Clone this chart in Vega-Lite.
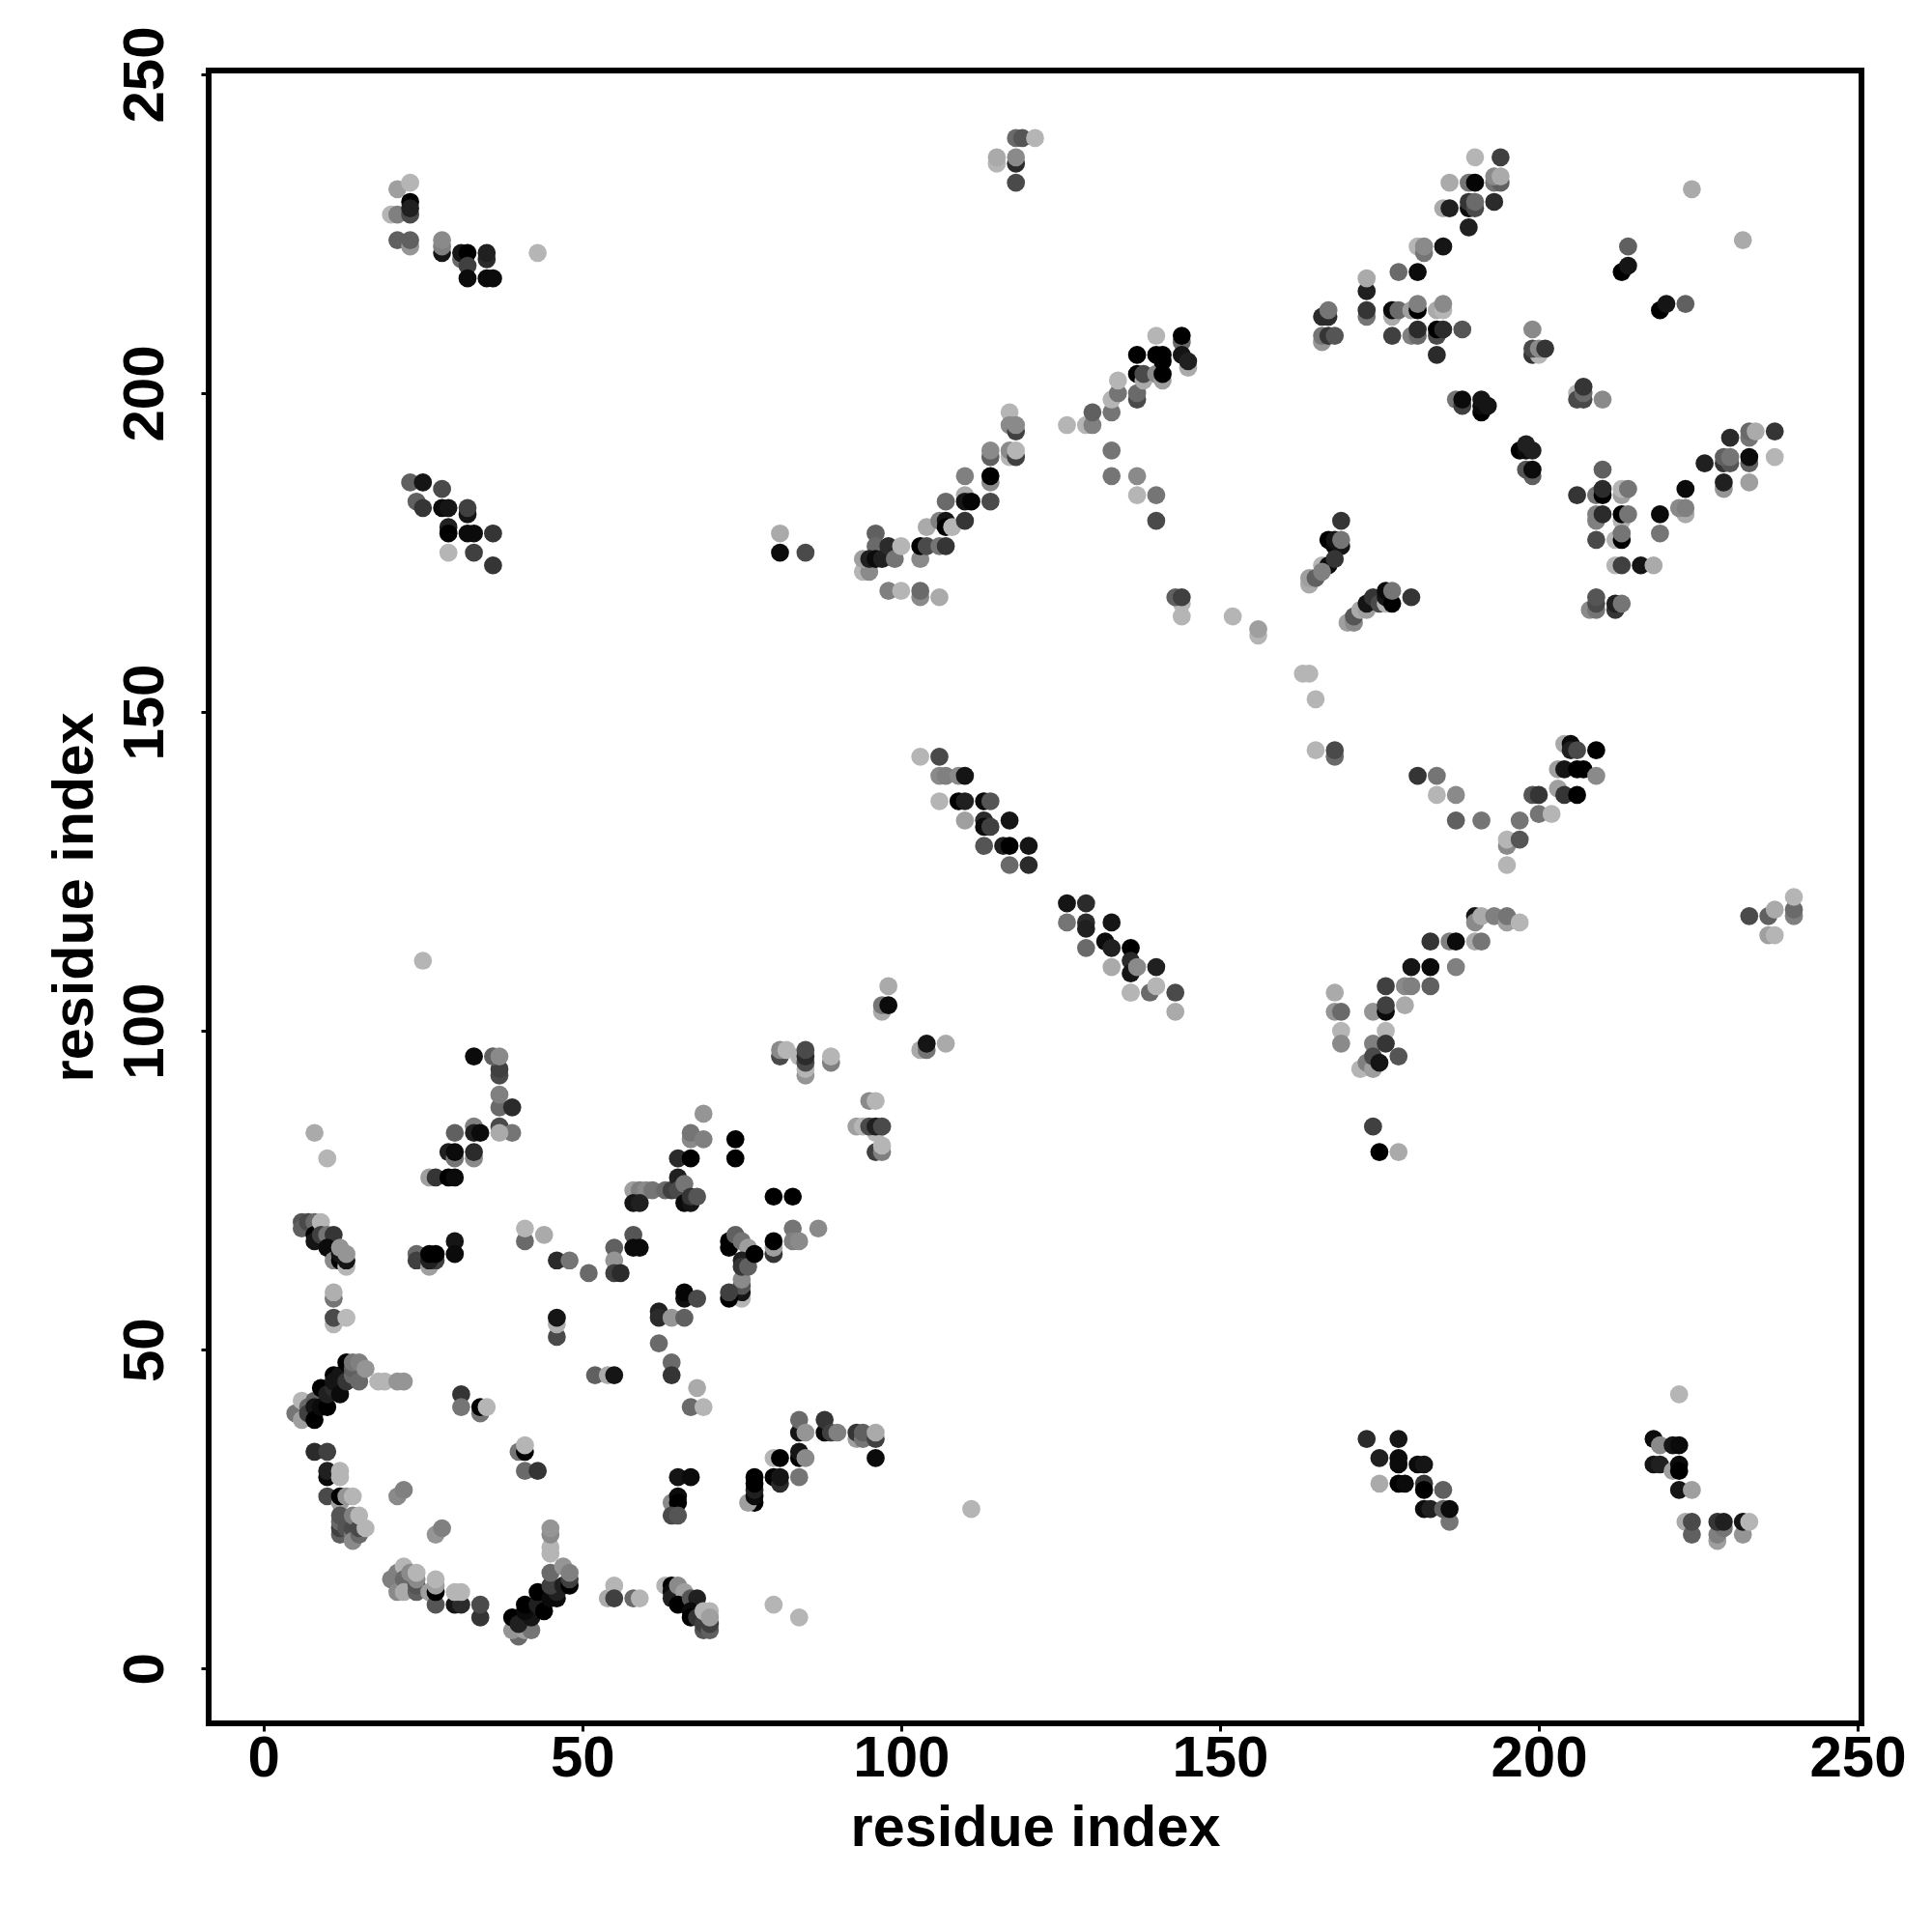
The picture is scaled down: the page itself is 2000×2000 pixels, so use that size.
{"$schema":"https://vega.github.io/schema/vega-lite/v6.json","width":1711,"height":1711,"autosize":{"type":"none"},"padding":{"left":216,"top":73,"right":73,"bottom":216},"background":"white","view":{"stroke":"black","strokeWidth":6,"fill":"white"},"data":{"values":[
{"x":6,"y":70,"g":80},{"x":6,"y":69,"g":90},{"x":7,"y":70,"g":70},{"x":8,"y":70,"g":100},{"x":8,"y":68,"g":0},{"x":8,"y":67,"g":20},{"x":9,"y":70,"g":170},{"x":9,"y":68,"g":60},{"x":10,"y":68,"g":110},{"x":11,"y":68,"g":50},{"x":10,"y":66,"g":10},{"x":11,"y":65,"g":10},{"x":11,"y":64,"g":130},{"x":12,"y":64,"g":0},{"x":13,"y":63,"g":170},{"x":13,"y":64,"g":20},{"x":12,"y":65,"g":20},{"x":12,"y":66,"g":140},{"x":13,"y":65,"g":140},
{"x":24,"y":65,"g":100},{"x":24,"y":64,"g":60},{"x":26,"y":63,"g":150},{"x":27,"y":64,"g":60},{"x":26,"y":64,"g":30},{"x":26,"y":65,"g":0},{"x":27,"y":65,"g":0},{"x":30,"y":67,"g":20},{"x":30,"y":65,"g":10},
{"x":41,"y":67,"g":100},{"x":41,"y":69,"g":170},{"x":44,"y":68,"g":160},{"x":46,"y":64,"g":40},{"x":48,"y":64,"g":110},{"x":51,"y":62,"g":100},{"x":55,"y":66,"g":90},{"x":55,"y":64,"g":140},{"x":55,"y":62,"g":60},{"x":56,"y":62,"g":40},{"x":58,"y":68,"g":80},{"x":58,"y":66,"g":10},{"x":59,"y":66,"g":10},
{"x":11,"y":58,"g":110},{"x":11,"y":59,"g":165},{"x":11,"y":54,"g":170},{"x":11,"y":55,"g":70},{"x":13,"y":55,"g":175},{"x":46,"y":52,"g":70},{"x":46,"y":54,"g":165},{"x":46,"y":55,"g":20},
{"x":62,"y":56,"g":30},{"x":62,"y":55,"g":40},{"x":64,"y":55,"g":140},{"x":66,"y":55,"g":90},{"x":66,"y":58,"g":15},{"x":66,"y":59,"g":5},{"x":68,"y":58,"g":70},{"x":62,"y":51,"g":100},{"x":64,"y":48,"g":100},{"x":64,"y":46,"g":50},{"x":68,"y":44,"g":160},{"x":67,"y":41,"g":100},{"x":69,"y":41,"g":170},{"x":52,"y":46,"g":90},{"x":54,"y":46,"g":160},{"x":55,"y":46,"g":20},
{"x":5,"y":40,"g":110},{"x":6,"y":39,"g":150},{"x":6,"y":42,"g":170},{"x":7,"y":41,"g":100},{"x":7,"y":40,"g":60},{"x":8,"y":42,"g":90},{"x":8,"y":41,"g":20},{"x":8,"y":39,"g":0},{"x":9,"y":41,"g":10},{"x":9,"y":44,"g":0},{"x":10,"y":41,"g":0},{"x":10,"y":43,"g":30},{"x":11,"y":46,"g":0},{"x":11,"y":44,"g":40},{"x":11,"y":45,"g":20},{"x":12,"y":43,"g":10},{"x":12,"y":46,"g":20},{"x":13,"y":45,"g":50},{"x":13,"y":48,"g":0},{"x":14,"y":46,"g":100},{"x":14,"y":47,"g":90},{"x":14,"y":48,"g":110},{"x":15,"y":45,"g":100},{"x":15,"y":48,"g":120},{"x":16,"y":47,"g":140},{"x":18,"y":45,"g":170},{"x":19,"y":45,"g":170},{"x":21,"y":45,"g":140},{"x":22,"y":45,"g":140},
{"x":31,"y":43,"g":50},{"x":31,"y":41,"g":110},{"x":34,"y":40,"g":110},{"x":34,"y":41,"g":0},{"x":35,"y":41,"g":170},
{"x":8,"y":34,"g":40},{"x":10,"y":34,"g":60},{"x":10,"y":30,"g":10},{"x":10,"y":31,"g":30},{"x":12,"y":30,"g":170},{"x":12,"y":31,"g":170},{"x":10,"y":27,"g":70},{"x":12,"y":26,"g":150},{"x":12,"y":27,"g":0},{"x":13,"y":27,"g":140},{"x":14,"y":27,"g":170},
{"x":12,"y":21,"g":90},{"x":12,"y":22,"g":60},{"x":12,"y":23,"g":100},{"x":12,"y":24,"g":80},{"x":13,"y":22,"g":80},{"x":14,"y":21,"g":110},{"x":14,"y":22,"g":70},{"x":14,"y":20,"g":130},{"x":14,"y":24,"g":120},{"x":15,"y":21,"g":100},{"x":15,"y":22,"g":70},{"x":15,"y":24,"g":170},{"x":16,"y":22,"g":170},
{"x":21,"y":27,"g":130},{"x":22,"y":28,"g":120},{"x":27,"y":21,"g":140},{"x":28,"y":22,"g":120},{"x":40,"y":34,"g":110},{"x":41,"y":34,"g":0},{"x":41,"y":35,"g":170},{"x":41,"y":31,"g":100},{"x":43,"y":31,"g":50},
{"x":20,"y":14,"g":120},{"x":21,"y":15,"g":120},{"x":21,"y":12,"g":130},{"x":22,"y":16,"g":170},{"x":22,"y":14,"g":100},{"x":22,"y":12,"g":160},{"x":23,"y":15,"g":130},{"x":24,"y":12,"g":90},{"x":24,"y":13,"g":80},{"x":24,"y":14,"g":130},{"x":24,"y":15,"g":170},{"x":26,"y":12,"g":150},{"x":27,"y":10,"g":80},{"x":27,"y":12,"g":0},{"x":27,"y":13,"g":150},{"x":27,"y":14,"g":170},{"x":30,"y":10,"g":20},{"x":31,"y":10,"g":40},{"x":30,"y":12,"g":170},{"x":31,"y":12,"g":170},{"x":34,"y":8,"g":50},{"x":34,"y":10,"g":70},
{"x":40,"y":5,"g":100},{"x":39,"y":6,"g":140},{"x":41,"y":6,"g":150},{"x":42,"y":6,"g":110},{"x":39,"y":8,"g":0},{"x":40,"y":7,"g":30},{"x":42,"y":8,"g":20},{"x":41,"y":9,"g":10},{"x":41,"y":10,"g":0},{"x":43,"y":10,"g":30},{"x":44,"y":9,"g":0},{"x":43,"y":12,"g":0},{"x":45,"y":11,"g":10},{"x":46,"y":11,"g":10},{"x":46,"y":12,"g":30},{"x":45,"y":13,"g":60},{"x":47,"y":13,"g":30},{"x":48,"y":13,"g":0},{"x":48,"y":14,"g":60},{"x":45,"y":15,"g":100},{"x":47,"y":16,"g":140},{"x":48,"y":15,"g":120},
{"x":45,"y":18,"g":170},{"x":45,"y":19,"g":170},{"x":45,"y":21,"g":130},{"x":45,"y":22,"g":140},{"x":54,"y":11,"g":160},{"x":55,"y":13,"g":170},{"x":55,"y":11,"g":60},{"x":58,"y":11,"g":100},{"x":59,"y":11,"g":170},
{"x":63,"y":13,"g":170},{"x":64,"y":13,"g":0},{"x":64,"y":12,"g":10},{"x":64,"y":11,"g":30},{"x":65,"y":13,"g":130},{"x":66,"y":12,"g":150},{"x":65,"y":10,"g":0},{"x":67,"y":11,"g":80},{"x":68,"y":11,"g":30},{"x":67,"y":9,"g":10},{"x":67,"y":8,"g":0},{"x":68,"y":8,"g":50},{"x":69,"y":6,"g":80},{"x":69,"y":7,"g":60},{"x":70,"y":6,"g":90},{"x":70,"y":7,"g":60},{"x":69,"y":9,"g":170},{"x":70,"y":9,"g":170},{"x":70,"y":8,"g":150},
{"x":97,"y":103,"g":160},{"x":97,"y":104,"g":110},{"x":98,"y":104,"g":10},{"x":98,"y":107,"g":160},{"x":103,"y":97,"g":160},{"x":104,"y":97,"g":110},{"x":104,"y":98,"g":20},{"x":107,"y":98,"g":160},
{"x":81,"y":96,"g":70},{"x":81,"y":97,"g":130},{"x":82,"y":97,"g":170},{"x":84,"y":96,"g":170},{"x":85,"y":93,"g":140},{"x":85,"y":94,"g":170},{"x":85,"y":95,"g":70},{"x":85,"y":96,"g":40},{"x":85,"y":97,"g":70},{"x":89,"y":95,"g":120},{"x":89,"y":96,"g":170},
{"x":95,"y":89,"g":130},{"x":96,"y":89,"g":170},{"x":93,"y":85,"g":150},{"x":94,"y":85,"g":170},{"x":96,"y":84,"g":170},{"x":95,"y":85,"g":70},{"x":96,"y":85,"g":30},{"x":97,"y":85,"g":70},{"x":96,"y":81,"g":60},{"x":97,"y":81,"g":120},{"x":97,"y":82,"g":170},
{"x":74,"y":83,"g":0},{"x":74,"y":80,"g":0},{"x":80,"y":74,"g":0},{"x":83,"y":74,"g":0},{"x":83,"y":69,"g":110},{"x":87,"y":69,"g":130},{"x":83,"y":67,"g":120},{"x":84,"y":67,"g":130},{"x":80,"y":65,"g":50},{"x":80,"y":66,"g":150},{"x":80,"y":67,"g":0},
{"x":73,"y":67,"g":0},{"x":73,"y":66,"g":0},{"x":74,"y":68,"g":90},{"x":75,"y":67,"g":110},{"x":76,"y":66,"g":150},{"x":75,"y":64,"g":30},{"x":75,"y":58,"g":170},{"x":75,"y":59,"g":20},{"x":75,"y":60,"g":80},{"x":75,"y":61,"g":130},{"x":75,"y":63,"g":50},{"x":76,"y":63,"g":90},{"x":77,"y":65,"g":0},{"x":73,"y":58,"g":0},{"x":73,"y":59,"g":60},
{"x":84,"y":37,"g":20},{"x":84,"y":39,"g":100},{"x":85,"y":37,"g":140},{"x":88,"y":37,"g":10},{"x":88,"y":39,"g":50},{"x":89,"y":37,"g":60},{"x":90,"y":37,"g":120},{"x":93,"y":36,"g":150},{"x":93,"y":37,"g":50},{"x":94,"y":36,"g":110},{"x":94,"y":37,"g":90},{"x":96,"y":36,"g":60},{"x":96,"y":37,"g":160},{"x":96,"y":33,"g":10},
{"x":80,"y":33,"g":170},{"x":81,"y":33,"g":0},{"x":84,"y":33,"g":0},{"x":84,"y":34,"g":20},{"x":85,"y":33,"g":130},{"x":77,"y":26,"g":0},{"x":76,"y":26,"g":150},{"x":77,"y":27,"g":10},{"x":77,"y":28,"g":30},{"x":77,"y":29,"g":0},{"x":77,"y":30,"g":0},{"x":80,"y":30,"g":0},{"x":81,"y":29,"g":40},{"x":81,"y":30,"g":20},{"x":84,"y":30,"g":110},
{"x":136,"y":106,"g":170},{"x":139,"y":106,"g":100},{"x":140,"y":107,"g":170},{"x":143,"y":106,"g":70},{"x":143,"y":103,"g":160},
{"x":126,"y":120,"g":20},{"x":129,"y":120,"g":40},{"x":126,"y":117,"g":110},{"x":129,"y":117,"g":40},{"x":129,"y":116,"g":30},{"x":133,"y":117,"g":20},{"x":129,"y":113,"g":100},{"x":132,"y":114,"g":10},{"x":133,"y":113,"g":30},{"x":133,"y":110,"g":160},{"x":136,"y":113,"g":0},{"x":136,"y":111,"g":40},{"x":136,"y":109,"g":20},{"x":137,"y":110,"g":130},{"x":140,"y":110,"g":30},{"x":136,"y":106,"g":170},
{"x":103,"y":143,"g":170},{"x":106,"y":143,"g":70},{"x":106,"y":136,"g":170},{"x":106,"y":140,"g":130},{"x":107,"y":140,"g":120},{"x":109,"y":140,"g":130},{"x":110,"y":140,"g":20},{"x":109,"y":136,"g":0},{"x":110,"y":136,"g":30},{"x":110,"y":133,"g":150},{"x":113,"y":136,"g":10},{"x":114,"y":136,"g":80},{"x":113,"y":133,"g":40},{"x":113,"y":132,"g":10},{"x":114,"y":132,"g":60},{"x":117,"y":133,"g":20},{"x":113,"y":129,"g":80},{"x":116,"y":129,"g":30},{"x":117,"y":129,"g":0},{"x":120,"y":129,"g":20},{"x":117,"y":126,"g":100},{"x":120,"y":126,"g":40},
{"x":174,"y":85,"g":60},{"x":175,"y":81,"g":0},{"x":178,"y":81,"g":160},{"x":168,"y":106,"g":160},{"x":168,"y":103,"g":140},{"x":169,"y":103,"g":100},{"x":169,"y":100,"g":170},{"x":169,"y":98,"g":130},{"x":172,"y":94,"g":170},{"x":173,"y":95,"g":120},{"x":174,"y":94,"g":150},{"x":174,"y":98,"g":120},{"x":174,"y":96,"g":70},{"x":175,"y":95,"g":20},{"x":176,"y":100,"g":170},{"x":176,"y":98,"g":50},{"x":174,"y":103,"g":140},{"x":176,"y":103,"g":10},{"x":176,"y":104,"g":60},{"x":176,"y":107,"g":60},{"x":178,"y":96,"g":80},{"x":179,"y":104,"g":160},{"x":179,"y":107,"g":130},{"x":180,"y":107,"g":120},{"x":180,"y":110,"g":20},{"x":183,"y":107,"g":90},{"x":183,"y":110,"g":10},{"x":183,"y":114,"g":50},{"x":186,"y":114,"g":120},{"x":187,"y":114,"g":10},{"x":187,"y":110,"g":120},{"x":190,"y":114,"g":160},{"x":191,"y":114,"g":110},{"x":190,"y":118,"g":20},{"x":190,"y":117,"g":130},{"x":191,"y":118,"g":160},{"x":193,"y":118,"g":120},{"x":195,"y":117,"g":150},{"x":195,"y":118,"g":110},{"x":197,"y":117,"g":170},
{"x":233,"y":118,"g":70},{"x":236,"y":115,"g":150},{"x":237,"y":115,"g":170},{"x":236,"y":118,"g":90},{"x":237,"y":119,"g":160},{"x":240,"y":118,"g":120},{"x":240,"y":119,"g":100},{"x":240,"y":121,"g":170},
{"x":181,"y":140,"g":50},{"x":184,"y":140,"g":110},{"x":184,"y":137,"g":170},{"x":187,"y":137,"g":130},{"x":187,"y":133,"g":90},{"x":191,"y":133,"g":110},{"x":195,"y":126,"g":170},{"x":195,"y":129,"g":130},{"x":195,"y":130,"g":170},{"x":197,"y":130,"g":80},{"x":197,"y":133,"g":110},{"x":200,"y":134,"g":110},{"x":202,"y":134,"g":170},{"x":199,"y":137,"g":80},{"x":200,"y":137,"g":50},{"x":203,"y":138,"g":150},{"x":203,"y":141,"g":150},{"x":204,"y":137,"g":50},{"x":206,"y":137,"g":0},{"x":204,"y":141,"g":20},{"x":206,"y":141,"g":0},{"x":207,"y":141,"g":0},{"x":204,"y":145,"g":160},{"x":205,"y":145,"g":10},{"x":205,"y":144,"g":30},{"x":206,"y":144,"g":70},{"x":209,"y":140,"g":130},{"x":209,"y":144,"g":0},
{"x":173,"y":36,"g":40},{"x":175,"y":33,"g":30},{"x":178,"y":36,"g":20},{"x":178,"y":33,"g":10},{"x":178,"y":32,"g":10},{"x":175,"y":29,"g":160},{"x":178,"y":29,"g":0},{"x":179,"y":29,"g":10},{"x":181,"y":32,"g":10},{"x":182,"y":32,"g":20},{"x":182,"y":29,"g":50},{"x":182,"y":28,"g":0},{"x":185,"y":28,"g":90},{"x":182,"y":25,"g":10},{"x":183,"y":25,"g":30},{"x":186,"y":23,"g":110},{"x":185,"y":25,"g":90},{"x":186,"y":25,"g":10},
{"x":218,"y":36,"g":10},{"x":219,"y":35,"g":130},{"x":221,"y":35,"g":20},{"x":222,"y":35,"g":10},{"x":218,"y":32,"g":20},{"x":219,"y":32,"g":30},{"x":221,"y":31,"g":150},{"x":222,"y":32,"g":10},{"x":222,"y":31,"g":0},{"x":222,"y":43,"g":170},{"x":222,"y":28,"g":20},{"x":224,"y":28,"g":150},{"x":223,"y":23,"g":160},{"x":224,"y":21,"g":90},{"x":224,"y":23,"g":70},{"x":228,"y":20,"g":150},{"x":228,"y":21,"g":120},{"x":229,"y":22,"g":110},{"x":228,"y":23,"g":50},{"x":229,"y":23,"g":30},{"x":232,"y":21,"g":140},{"x":232,"y":23,"g":20},{"x":233,"y":23,"g":170},{"x":111,"y":25,"g":170},
{"x":23,"y":186,"g":90},{"x":25,"y":186,"g":20},{"x":24,"y":183,"g":90},{"x":25,"y":182,"g":50},{"x":28,"y":185,"g":70},{"x":28,"y":182,"g":10},{"x":29,"y":182,"g":20},{"x":29,"y":179,"g":30},{"x":29,"y":178,"g":0},{"x":29,"y":175,"g":170},{"x":32,"y":181,"g":20},{"x":32,"y":182,"g":60},{"x":32,"y":178,"g":10},{"x":33,"y":178,"g":10},{"x":36,"y":178,"g":50},{"x":33,"y":175,"g":60},{"x":36,"y":173,"g":50},
{"x":21,"y":232,"g":150},{"x":23,"y":230,"g":0},{"x":23,"y":233,"g":170},{"x":20,"y":228,"g":170},{"x":21,"y":228,"g":120},{"x":23,"y":228,"g":70},{"x":23,"y":229,"g":30},{"x":21,"y":224,"g":90},{"x":23,"y":223,"g":140},{"x":23,"y":224,"g":90},{"x":28,"y":222,"g":20},{"x":28,"y":223,"g":120},{"x":28,"y":224,"g":130},{"x":31,"y":221,"g":100},{"x":31,"y":222,"g":20},{"x":32,"y":222,"g":0},{"x":32,"y":220,"g":60},{"x":32,"y":218,"g":10},{"x":35,"y":221,"g":40},{"x":35,"y":222,"g":30},{"x":35,"y":218,"g":10},{"x":36,"y":218,"g":10},{"x":43,"y":222,"g":170},
{"x":26,"y":77,"g":150},{"x":27,"y":77,"g":50},{"x":29,"y":77,"g":0},{"x":30,"y":77,"g":10},{"x":29,"y":81,"g":30},{"x":30,"y":80,"g":110},{"x":30,"y":81,"g":10},{"x":30,"y":84,"g":90},{"x":33,"y":80,"g":130},{"x":33,"y":81,"g":40},{"x":33,"y":85,"g":120},{"x":33,"y":84,"g":30},{"x":34,"y":84,"g":10},{"x":37,"y":85,"g":70},{"x":39,"y":84,"g":110},{"x":37,"y":84,"g":160},{"x":37,"y":88,"g":100},{"x":39,"y":88,"g":40},{"x":37,"y":90,"g":120},{"x":37,"y":93,"g":70},{"x":33,"y":96,"g":10},{"x":37,"y":94,"g":60},{"x":36,"y":96,"g":90},{"x":37,"y":96,"g":130},{"x":25,"y":111,"g":170},{"x":8,"y":84,"g":160},{"x":10,"y":80,"g":170},
{"x":58,"y":75,"g":150},{"x":59,"y":75,"g":120},{"x":60,"y":75,"g":130},{"x":61,"y":75,"g":110},{"x":63,"y":75,"g":100},{"x":64,"y":75,"g":60},{"x":65,"y":77,"g":30},{"x":65,"y":75,"g":70},{"x":58,"y":73,"g":20},{"x":59,"y":73,"g":30},{"x":66,"y":73,"g":10},{"x":67,"y":73,"g":20},{"x":66,"y":76,"g":110},{"x":67,"y":74,"g":50},{"x":68,"y":74,"g":80},{"x":65,"y":80,"g":40},{"x":67,"y":80,"g":0},{"x":67,"y":83,"g":130},{"x":67,"y":84,"g":110},{"x":69,"y":83,"g":120},{"x":69,"y":87,"g":140},
{"x":80,"y":10,"g":170},{"x":84,"y":8,"g":170},{"x":65,"y":30,"g":20},{"x":67,"y":30,"g":10},{"x":64,"y":26,"g":130},{"x":65,"y":27,"g":10},{"x":65,"y":26,"g":0},{"x":64,"y":24,"g":70},{"x":65,"y":24,"g":80},
{"x":81,"y":178,"g":160},{"x":81,"y":175,"g":10},{"x":85,"y":175,"g":70},{"x":94,"y":172,"g":170},{"x":95,"y":172,"g":130},{"x":94,"y":174,"g":150},{"x":96,"y":178,"g":90},{"x":96,"y":176,"g":100},{"x":95,"y":174,"g":30},{"x":96,"y":174,"g":10},{"x":97,"y":174,"g":30},{"x":98,"y":176,"g":40},{"x":99,"y":174,"g":110},{"x":100,"y":176,"g":170},{"x":98,"y":169,"g":120},{"x":100,"y":169,"g":170},{"x":103,"y":168,"g":130},{"x":103,"y":169,"g":100},{"x":106,"y":168,"g":160},{"x":103,"y":174,"g":130},{"x":103,"y":176,"g":0},{"x":104,"y":176,"g":70},{"x":106,"y":176,"g":110},{"x":107,"y":176,"g":50},{"x":104,"y":179,"g":160},{"x":106,"y":180,"g":120},{"x":107,"y":180,"g":20},{"x":107,"y":179,"g":0},{"x":108,"y":179,"g":170},{"x":110,"y":180,"g":50},{"x":107,"y":183,"g":100},{"x":110,"y":184,"g":160},{"x":110,"y":183,"g":20},{"x":111,"y":183,"g":5},{"x":114,"y":183,"g":70},{"x":110,"y":187,"g":120},{"x":114,"y":186,"g":130},{"x":114,"y":187,"g":0},{"x":114,"y":190,"g":90},{"x":114,"y":191,"g":130},{"x":117,"y":190,"g":170},{"x":117,"y":191,"g":130},{"x":118,"y":190,"g":60},{"x":118,"y":191,"g":170},{"x":117,"y":197,"g":170},{"x":117,"y":195,"g":130},{"x":118,"y":194,"g":60},{"x":118,"y":195,"g":130},
{"x":126,"y":195,"g":170},{"x":129,"y":195,"g":170},{"x":130,"y":195,"g":120},{"x":130,"y":197,"g":90},{"x":133,"y":197,"g":110},{"x":133,"y":199,"g":170},{"x":134,"y":200,"g":110},{"x":134,"y":202,"g":170},{"x":137,"y":199,"g":70},{"x":137,"y":200,"g":100},{"x":133,"y":191,"g":110},{"x":133,"y":187,"g":110},{"x":137,"y":187,"g":130},{"x":137,"y":184,"g":170},{"x":140,"y":184,"g":110},{"x":140,"y":180,"g":70},
{"x":137,"y":203,"g":0},{"x":138,"y":202,"g":160},{"x":138,"y":203,"g":70},{"x":140,"y":209,"g":170},{"x":144,"y":208,"g":100},{"x":144,"y":209,"g":0},{"x":137,"y":206,"g":0},{"x":140,"y":203,"g":130},{"x":140,"y":206,"g":0},{"x":141,"y":202,"g":150},{"x":141,"y":203,"g":0},{"x":141,"y":205,"g":0},{"x":141,"y":206,"g":0},{"x":144,"y":206,"g":20},{"x":145,"y":204,"g":160},{"x":145,"y":205,"g":30},
{"x":144,"y":165,"g":170},{"x":144,"y":167,"g":170},{"x":143,"y":168,"g":90},{"x":144,"y":168,"g":60},{"x":152,"y":165,"g":170},{"x":156,"y":162,"g":170},{"x":156,"y":163,"g":150},{"x":163,"y":156,"g":170},{"x":164,"y":156,"g":170},{"x":165,"y":152,"g":170},{"x":165,"y":144,"g":170},{"x":168,"y":143,"g":100},{"x":168,"y":144,"g":70},
{"x":115,"y":236,"g":170},{"x":115,"y":237,"g":160},{"x":118,"y":233,"g":70},{"x":118,"y":236,"g":40},{"x":118,"y":237,"g":130},{"x":118,"y":240,"g":100},{"x":119,"y":240,"g":80},{"x":121,"y":240,"g":170},
{"x":190,"y":237,"g":170},{"x":194,"y":237,"g":60},{"x":186,"y":233,"g":160},{"x":189,"y":233,"g":110},{"x":190,"y":233,"g":5},{"x":193,"y":233,"g":110},{"x":194,"y":233,"g":90},{"x":193,"y":234,"g":130},{"x":194,"y":234,"g":160},{"x":185,"y":229,"g":160},{"x":186,"y":229,"g":30},{"x":189,"y":229,"g":10},{"x":189,"y":230,"g":50},{"x":190,"y":229,"g":70},{"x":190,"y":230,"g":100},{"x":193,"y":230,"g":40},{"x":189,"y":226,"g":30},
{"x":181,"y":223,"g":170},{"x":182,"y":222,"g":110},{"x":182,"y":223,"g":130},{"x":185,"y":223,"g":20},{"x":178,"y":219,"g":100},{"x":181,"y":219,"g":10},{"x":173,"y":216,"g":30},{"x":173,"y":218,"g":160},{"x":173,"y":212,"g":110},{"x":173,"y":213,"g":50},
{"x":166,"y":212,"g":40},{"x":167,"y":212,"g":40},{"x":167,"y":213,"g":110},{"x":166,"y":208,"g":140},{"x":166,"y":209,"g":110},{"x":167,"y":209,"g":50},{"x":168,"y":209,"g":80},
{"x":177,"y":212,"g":160},{"x":177,"y":213,"g":10},{"x":178,"y":213,"g":100},{"x":177,"y":209,"g":60},{"x":180,"y":209,"g":120},{"x":181,"y":209,"g":100},{"x":180,"y":213,"g":150},{"x":181,"y":213,"g":0},{"x":181,"y":214,"g":120},{"x":181,"y":210,"g":40},{"x":184,"y":213,"g":160},{"x":185,"y":213,"g":170},{"x":185,"y":214,"g":130},{"x":184,"y":209,"g":70},{"x":184,"y":210,"g":0},{"x":185,"y":210,"g":40},{"x":188,"y":210,"g":80},{"x":184,"y":206,"g":40},
{"x":199,"y":210,"g":130},{"x":199,"y":206,"g":50},{"x":200,"y":206,"g":170},{"x":199,"y":207,"g":70},{"x":200,"y":207,"g":130},{"x":201,"y":207,"g":50},
{"x":187,"y":199,"g":110},{"x":188,"y":198,"g":60},{"x":188,"y":199,"g":10},{"x":191,"y":197,"g":0},{"x":191,"y":198,"g":10},{"x":191,"y":199,"g":20},{"x":192,"y":198,"g":20},
{"x":197,"y":191,"g":0},{"x":198,"y":191,"g":10},{"x":198,"y":192,"g":30},{"x":199,"y":191,"g":30},{"x":199,"y":187,"g":90},{"x":198,"y":188,"g":80},{"x":199,"y":188,"g":10},
{"x":206,"y":200,"g":170},{"x":206,"y":199,"g":70},{"x":207,"y":199,"g":70},{"x":207,"y":200,"g":100},{"x":207,"y":201,"g":50},{"x":210,"y":199,"g":130},
{"x":224,"y":232,"g":160},{"x":232,"y":224,"g":160},{"x":214,"y":223,"g":90},{"x":213,"y":219,"g":0},{"x":214,"y":220,"g":20},{"x":219,"y":213,"g":0},{"x":220,"y":214,"g":20},{"x":223,"y":214,"g":90},
{"x":210,"y":188,"g":90},{"x":206,"y":184,"g":50},{"x":209,"y":184,"g":110},{"x":210,"y":184,"g":0},{"x":210,"y":185,"g":40},{"x":213,"y":184,"g":150},{"x":213,"y":185,"g":170},{"x":214,"y":185,"g":110},{"x":209,"y":180,"g":120},{"x":209,"y":181,"g":120},{"x":210,"y":181,"g":40},{"x":213,"y":180,"g":170},{"x":213,"y":181,"g":0},{"x":214,"y":181,"g":110},{"x":212,"y":177,"g":170},{"x":213,"y":177,"g":0},{"x":213,"y":178,"g":110},{"x":209,"y":177,"g":70},
{"x":219,"y":181,"g":10},{"x":219,"y":178,"g":110},{"x":223,"y":185,"g":10},{"x":223,"y":181,"g":160},{"x":222,"y":182,"g":130},{"x":223,"y":182,"g":120},{"x":226,"y":189,"g":30},{"x":229,"y":189,"g":50},{"x":230,"y":189,"g":80},{"x":229,"y":190,"g":90},{"x":230,"y":190,"g":110},{"x":233,"y":189,"g":90},{"x":233,"y":190,"g":10},{"x":237,"y":190,"g":170},{"x":230,"y":193,"g":40},{"x":233,"y":193,"g":110},{"x":233,"y":194,"g":100},{"x":234,"y":194,"g":160},{"x":237,"y":194,"g":50},{"x":229,"y":185,"g":140},{"x":229,"y":186,"g":30},{"x":233,"y":186,"g":150},
{"x":169,"y":180,"g":50},{"x":167,"y":177,"g":0},{"x":168,"y":176,"g":10},{"x":168,"y":177,"g":20},{"x":169,"y":176,"g":20},{"x":169,"y":177,"g":110},{"x":166,"y":173,"g":170},{"x":167,"y":173,"g":10},{"x":168,"y":174,"g":50},{"x":164,"y":170,"g":160},{"x":164,"y":171,"g":150},{"x":165,"y":171,"g":90},{"x":166,"y":172,"g":120},
{"x":170,"y":164,"g":150},{"x":171,"y":164,"g":130},{"x":171,"y":165,"g":80},{"x":172,"y":166,"g":160},{"x":173,"y":166,"g":150},{"x":173,"y":167,"g":20},{"x":174,"y":168,"g":50},{"x":175,"y":167,"g":70},{"x":176,"y":167,"g":170},{"x":176,"y":168,"g":20},{"x":176,"y":169,"g":10},{"x":177,"y":167,"g":0},{"x":177,"y":169,"g":110},{"x":180,"y":168,"g":50},
{"x":208,"y":166,"g":130},{"x":209,"y":166,"g":110},{"x":209,"y":167,"g":70},{"x":209,"y":168,"g":80},{"x":212,"y":166,"g":50},{"x":212,"y":167,"g":30},{"x":213,"y":167,"g":110},{"x":212,"y":173,"g":170},{"x":213,"y":173,"g":60},{"x":216,"y":173,"g":20},{"x":218,"y":173,"g":160}
]},
"mark":{"type":"circle","opacity":1,"size":350,"clip":false},
"encoding":{
"x":{"field":"x","type":"quantitative","scale":{"domain":[-8.6,250.6],"nice":false,"zero":false},"axis":{"values":[0,50,100,150,200,250],"grid":false,"domain":false,"ticks":true,"tickSize":8,"tickWidth":3,"tickColor":"black","labelFont":"Liberation Sans","labelFontWeight":"bold","labelFontSize":60,"labelColor":"black","labelPadding":-1,"labelFlush":false,"labelOverlap":false,"title":"residue index","titleFont":"Liberation Sans","titleFontWeight":"bold","titleFontSize":59.4,"titleColor":"black","titlePadding":13}},
"y":{"field":"y","type":"quantitative","scale":{"domain":[-8.6,250.6],"nice":false,"zero":false},"axis":{"values":[0,50,100,150,200,250],"grid":false,"domain":false,"ticks":true,"tickSize":8,"tickWidth":3,"tickColor":"black","labelFont":"Liberation Sans","labelFontWeight":"bold","labelFontSize":60,"labelColor":"black","labelAngle":-90,"labelAlign":"center","labelBaseline":"bottom","labelPadding":27,"labelOverlap":false,"labelFlush":false,"title":"residue index","titleFont":"Liberation Sans","titleFontWeight":"bold","titleFontSize":59.4,"titleColor":"black","titlePadding":13}},
"color":{"field":"g","type":"quantitative","legend":null,"scale":{"domain":[0,240],"range":["#000000","#ffffff"],"interpolate":"rgb"}}
}}
